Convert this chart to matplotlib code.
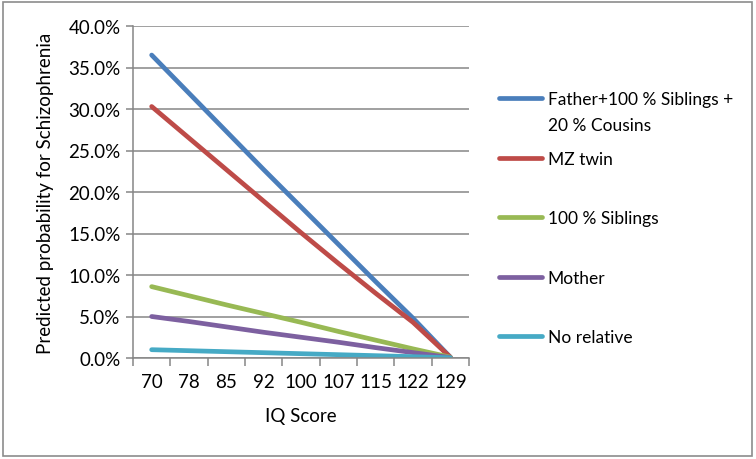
import matplotlib
matplotlib.use("Agg")
import matplotlib.pyplot as plt
from matplotlib.patches import Rectangle
from matplotlib.ticker import FuncFormatter

iq_labels = ["70", "78", "85", "92", "100", "107", "115", "122", "129"]
series_names = ["Father+100 % Siblings +", "MZ twin", "100 % Siblings", "Mother", "No relative"]
first_name_cont = "20 % Cousins"
father_sib_cous = [36.5, 31.9, 27.3, 22.7, 18.2, 13.7, 9.2, 4.8, 0.1]
mz_twin = [30.3, 26.5, 22.7, 18.9, 15.1, 11.4, 7.8, 4.3, 0.1]
siblings = [8.6, 7.5, 6.4, 5.35, 4.3, 3.2, 2.15, 1.1, 0.1]
mother = [5.0, 4.4, 3.75, 3.1, 2.5, 1.9, 1.25, 0.65, 0.05]
no_relative = [1.0, 0.88, 0.76, 0.64, 0.52, 0.4, 0.28, 0.16, 0.02]
colors = ["#4A7EBB", "#BE4B48", "#98B954", "#7D60A0", "#46AAC5"]

plt.rcParams['font.family'] = ['Lato', 'DejaVu Sans']
FS = 13.5
LFS = 12.5

fig = plt.figure(figsize=(7.56, 4.60), dpi=100)
fig.patches.append(Rectangle((0.004, 0.006), 0.991, 0.988, transform=fig.transFigure,
                             fill=False, edgecolor="#8C8C8C", linewidth=1.2))
ax = fig.add_axes([133/756, 1 - 359/460, (469 - 133)/756, (359 - 27)/460])

x = list(range(len(iq_labels)))
all_series = [father_sib_cous, mz_twin, siblings, mother, no_relative]
for vals, name, c in zip(all_series, series_names, colors):
    ax.plot(x, [v / 100 for v in vals], color=c, linewidth=3.4, label=name,
            solid_capstyle='round')

ax.set_xlim(-0.5, len(iq_labels) - 0.5)
ax.set_ylim(0, 0.40)
ax.set_yticks([i * 0.05 for i in range(9)])
ax.yaxis.set_major_formatter(FuncFormatter(lambda v, p: f"{v*100:.1f}%"))
ax.grid(axis='y', color="#868686", linewidth=1.1)
ax.set_axisbelow(True)

ax.set_xticks([i - 0.5 for i in range(len(iq_labels) + 1)])
ax.set_xticklabels([])
ax.set_xticks(x, minor=True)
ax.set_xticklabels(iq_labels, minor=True)
ax.tick_params(axis='x', which='major', length=6, color="#868686", width=1.1)
ax.tick_params(axis='x', which='minor', length=0, pad=11, labelsize=FS)
ax.tick_params(axis='y', length=5, color="#868686", width=1.1, labelsize=FS, pad=4)

for s in ['top', 'right']:
    ax.spines[s].set_visible(False)
for s in ['left', 'bottom']:
    ax.spines[s].set_color("#868686")
    ax.spines[s].set_linewidth(1.1)

ax.set_xlabel("IQ Score", fontsize=FS, labelpad=12)
ax.set_ylabel("Predicted probability for Schizophrenia", fontsize=FS, labelpad=10)

leg = fig.legend(loc='upper left', bbox_to_anchor=(499/756, 1 - 92.5/460), frameon=False,
                 fontsize=LFS, handlelength=2.5, handletextpad=0.3, labelspacing=2.5,
                 borderpad=0, borderaxespad=0)

fig.canvas.draw()
t0 = leg.get_texts()[0]
bb = t0.get_window_extent()
inv = fig.transFigure.inverted()
x0, y0 = inv.transform((bb.x0, bb.y0))
fig.text(x0, y0 - 10/460, first_name_cont, fontsize=LFS, ha='left', va='top')

fig.savefig("out.png", dpi=100)
